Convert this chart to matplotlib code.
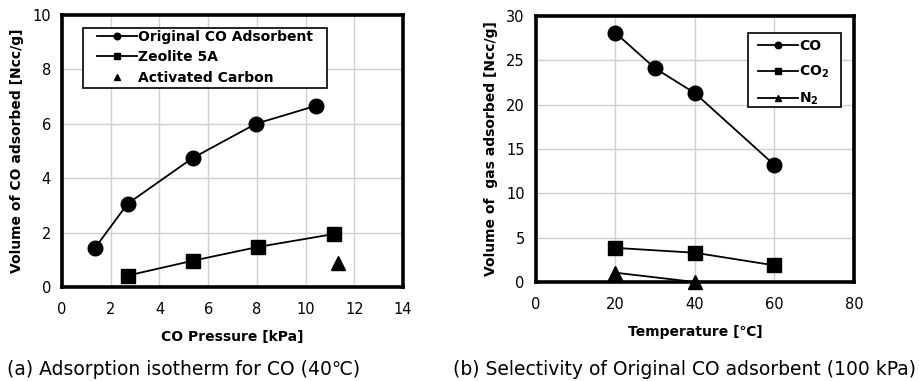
import numpy as np
import matplotlib.pyplot as plt
from matplotlib.patches import Rectangle

# (a) CO adsorption isotherm at 40 C
p_orig = [1.35, 2.69, 5.36, 7.96, 10.42]
v_orig = [1.43, 3.06, 4.74, 6.0, 6.66]
p_zeo = [2.69, 5.39, 8.03, 11.18]
v_zeo = [0.42, 0.97, 1.47, 1.95]
p_ac = [11.34]
v_ac = [0.88]

# (b) selectivity at 100 kPa
t_co = [20, 30, 40, 60]
v_co = [28.1, 24.1, 21.3, 13.2]
t_co2 = [20, 40, 60]
v_co2 = [3.85, 3.3, 1.88]
t_n2 = [20, 40]
v_n2 = [1.05, 0.0]

plt.rcParams['font.family'] = 'sans-serif'
plt.rcParams['font.sans-serif'] = ['DejaVu Sans']
plt.rcParams['mathtext.fontset'] = 'dejavusans'
fig = plt.figure(figsize=(9.19, 3.81), dpi=100)

ax1 = fig.add_axes([0.0675, 0.2467, 0.371, 0.714])
ax2 = fig.add_axes([0.5832, 0.2598, 0.346, 0.698])

ms = 10.5
lw = 1.3
ax1.plot(p_orig, v_orig, color='black', lw=lw, marker='o', ms=ms, label='Original CO Adsorbent', clip_on=False, zorder=3)
ax1.plot(p_zeo, v_zeo, color='black', lw=lw, marker='s', ms=ms, label='Zeolite 5A', clip_on=False, zorder=3)
ax1.plot(p_ac, v_ac, color='black', lw=0, marker='^', ms=ms, label='Activated Carbon', clip_on=False, zorder=3)
ax1.set_xlim(0, 14)
ax1.set_ylim(0, 10)
ax1.set_xticks(np.arange(0, 15, 2))
ax1.set_yticks(np.arange(0, 11, 2))
ax1.set_xlabel('CO Pressure [kPa]', fontweight='bold', fontsize=10, labelpad=9)
ax1.set_ylabel('Volume of CO adsorbed [Ncc/g]', fontweight='bold', fontsize=10, labelpad=6)

ax2.plot(t_co, v_co, color='black', lw=lw, marker='o', ms=ms, label='CO', clip_on=False, zorder=3)
ax2.plot(t_co2, v_co2, color='black', lw=lw, marker='s', ms=ms, label=r'CO$_\mathbf{2}$', clip_on=False, zorder=3)
ax2.plot(t_n2, v_n2, color='black', lw=lw, marker='^', ms=ms, label=r'N$_\mathbf{2}$', clip_on=False, zorder=3)
ax2.set_xlim(0, 80)
ax2.set_ylim(0, 30)
ax2.set_xticks(np.arange(0, 81, 20))
ax2.set_yticks(np.arange(0, 31, 5))
ax2.set_xlabel('Temperature [\u2103]', fontweight='bold', fontsize=10, labelpad=9)
ax2.set_ylabel('Volume of  gas adsorbed [Ncc/g]', fontweight='bold', fontsize=10, labelpad=6)

for ax in (ax1, ax2):
    ax.grid(True, color='#d0d0d0', lw=1)
    ax.set_axisbelow(True)
    for s in ax.spines.values():
        s.set_linewidth(2.6)
    ax.tick_params(axis='y', length=0, labelsize=10.5, pad=8)
    ax.tick_params(axis='x', length=0, labelsize=10.5, pad=11)

leg_kw = dict(markerscale=0.45, handlelength=2.9, handletextpad=0.05, frameon=False,
              borderpad=0, borderaxespad=0, prop={'weight': 'bold', 'size': 10})
ax1.legend(loc='upper left', bbox_to_anchor=(0.103, 0.945), labelspacing=0.46, **leg_kw)
ax1.add_patch(Rectangle((0.0616, 0.732), 0.715, 0.22, transform=ax1.transAxes,
                        facecolor='white', edgecolor='black', lw=1.2, zorder=4))
ax2.legend(loc='upper left', bbox_to_anchor=(0.698, 0.914), labelspacing=0.78, **leg_kw)
ax2.add_patch(Rectangle((0.667, 0.658), 0.292, 0.278, transform=ax2.transAxes,
                        facecolor='white', edgecolor='black', lw=1.2, zorder=4))
for ax in (ax1, ax2):
    ax.get_legend().set_zorder(5)

fig.text(0.008, 0.03, '(a) Adsorption isotherm for CO (40\u2103)', fontsize=13.5, va='center')
fig.text(0.997, 0.03, '(b) Selectivity of Original CO adsorbent (100 kPa)', fontsize=13.5, va='center', ha='right')

fig.savefig('out.png', dpi=100)
